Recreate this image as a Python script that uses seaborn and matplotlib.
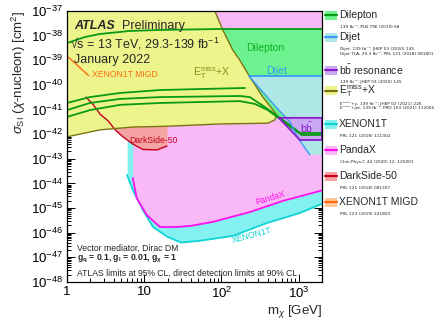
import matplotlib
matplotlib.use("Agg")
import matplotlib.pyplot as plt
import seaborn as sns
from matplotlib.patches import Rectangle
from matplotlib.lines import Line2D
from matplotlib.ticker import FixedLocator, FixedFormatter, LogLocator, NullFormatter

sns.set_theme(style="ticks")
plt.rcParams['font.family'] = ['Liberation Sans', 'DejaVu Sans']
plt.rcParams['mathtext.fontset'] = 'custom'
plt.rcParams['mathtext.rm'] = 'Liberation Sans'
plt.rcParams['mathtext.it'] = 'Liberation Sans:italic'
plt.rcParams['mathtext.bf'] = 'Liberation Sans:bold'
plt.rcParams['mathtext.sf'] = 'Liberation Sans'

# ---- limits: dark-matter mass [GeV] vs. SI cross-section [cm^2] ----
xenon_mass = [6.0, 7.1, 9.6, 13, 20, 30, 52, 140, 390, 1030, 2000]
xenon_xsec = [2.2e-44, 5.5e-45, 8.3e-46, 1.7e-46, 6.8e-47, 4.0e-47, 4.7e-47, 7.4e-47, 2.5e-46, 6.3e-46, 1.5e-45]

pandax_mass = [7.1, 8.0, 10.8, 16, 26, 40, 77, 233, 620, 2000]
pandax_xsec = [1.66e-44, 2.5e-45, 5.2e-46, 1.7e-46, 1.7e-46, 1.9e-46, 2.75e-46, 6.9e-46, 1.95e-45, 5.2e-45]

ds50_mass = [1.76, 2.2, 2.7, 3.4, 4.2, 5.3, 7.1, 9.6, 14.6, 19.7]
ds50_xsec = [3.2e-41, 1.55e-41, 6.3e-42, 3.5e-42, 1.5e-42, 7.8e-43, 4.0e-43, 2.4e-43, 2.3e-43, 3.3e-43]

migd_mass = [1.0, 1.9]
migd_xsec = [1.5e-39, 2.4e-40]

# E_T^miss + X excluded region (closed contour)
etmiss_mass = [1, 82, 104, 140, 173, 233, 343, 521, 491, 398, 95, 19.7, 7.1, 2.67, 1]
etmiss_xsec = [1e-37, 1e-37, 1.7e-38, 2.6e-39, 1.0e-39, 2.1e-40, 3.2e-41, 6.0e-42,
               3.8e-42, 2.8e-42, 2.6e-42, 2.1e-42, 1.95e-42, 1.5e-42, 7.8e-43]

# Dilepton contour: upper edge and lower edges
dilep_up_mass = [1, 1.71, 2.67, 6.5, 16, 95, 2000]
dilep_up_xsec = [5.0e-39, 8.8e-39, 1.17e-38, 1.55e-38, 1.7e-38, 1.86e-38, 1.86e-38]
dilep_a_mass = [1, 1.98, 4.85, 16, 52.6, 201]
dilep_a_xsec = [1.85e-41, 3.2e-41, 4.7e-41, 6.2e-41, 6.8e-41, 7.5e-41]
dilep_b_mass = [1, 1.98, 4.85, 16, 173, 233, 364, 767, 1033, 2000]
dilep_b_xsec = [9.5e-42, 1.85e-41, 2.7e-41, 3.2e-41, 3.55e-41, 3.2e-41, 1.27e-41, 2.35e-42, 1.12e-42, 1.12e-42]
dilep_c_mass = [1, 1.98, 4.85, 16, 173, 270, 398, 815, 1097, 2000]
dilep_c_xsec = [5.0e-42, 9.5e-42, 1.55e-41, 1.85e-41, 2.2e-41, 1.7e-41, 9.5e-42, 1.78e-42, 9.3e-43, 9.3e-43]

# Dijet region
dijet_mass = [226, 2000, 2000, 1393, 1200, 973, 767, 521, 343, 226]
dijet_xsec = [2.3e-40, 2.3e-40, 1.45e-43, 1.45e-43, 2.8e-43, 7.0e-43, 3.2e-42, 1.15e-41, 5.1e-41, 2.3e-40]

# b-bbar resonance region
bb_mass = [553, 2000, 2000, 1033, 553]
bb_xsec = [4.6e-42, 4.6e-42, 5.8e-43, 5.8e-43, 4.6e-42]

C_XENON_F, C_XENON_L = "#84f1f1", "#11d4d4"
C_PANDA_F, C_PANDA_L = "#f9b9f6", "#ff11ee"
C_DS_F, C_DS_L = "#f5a3a3", "#c4001c"
C_MIGD_F, C_MIGD_L = "#ffc79a", "#ff6a10"
C_ETM_F, C_ETM_L = "#eef48c", "#7b7412"
C_DIL_F, C_DIL_L = "#6cf28e", "#089a14"
C_DIJ_F, C_DIJ_L = "#afe6e6", "#3a9cf4"
C_BB_F, C_BB_L = "#c8a9f2", "#8a1ccc"

fig = plt.figure(figsize=(4.4, 3.22), dpi=100)
ax = fig.add_axes([67 / 440, 1 - 282 / 322, (322 - 67) / 440, (282 - 11) / 322])
ax.set_xscale("log")
ax.set_yscale("log")
ax.set_xlim(1, 2000)
ax.set_ylim(1e-48, 1e-37)
TOP = 1e-36

# direct detection fills
ax.fill_between(xenon_mass, xenon_xsec, TOP, color=C_XENON_F, lw=0, zorder=1)
ax.fill_between(pandax_mass, pandax_xsec, TOP, color=C_PANDA_F, lw=0, zorder=2)
ax.fill_between(ds50_mass, ds50_xsec, TOP, color=C_DS_F, lw=0, zorder=3)

# collider fills
ax.fill(dilep_up_mass + dilep_c_mass[::-1], dilep_up_xsec + dilep_c_xsec[::-1],
        color=C_DIL_F, lw=0, zorder=4)
ax.fill(dijet_mass, dijet_xsec, color=C_DIJ_F, lw=0, zorder=5)
ax.fill(bb_mass, bb_xsec, color=C_BB_F, lw=0, zorder=6)
ax.fill(etmiss_mass, etmiss_xsec, color=C_ETM_F, lw=0, zorder=7)

def curve(m, s, c, lw=1.3, z=10):
    sns.lineplot(x=m, y=s, sort=False, estimator=None, color=c, lw=lw, ax=ax, zorder=z)

curve(xenon_mass, xenon_xsec, C_XENON_L)
curve(pandax_mass, pandax_xsec, C_PANDA_L)
curve(ds50_mass, ds50_xsec, C_DS_L, lw=1.0)
curve(migd_mass, migd_xsec, C_MIGD_L, lw=1.0)
curve(etmiss_mass[1:], etmiss_xsec[1:], C_ETM_L, lw=1.0)
curve(dilep_up_mass, dilep_up_xsec, C_DIL_L, lw=1.3)
curve(dilep_a_mass, dilep_a_xsec, C_DIL_L, lw=1.3)
curve(dilep_b_mass, dilep_b_xsec, C_DIL_L, lw=1.3)
curve(dilep_c_mass, dilep_c_xsec, C_DIL_L, lw=1.3)
curve(dijet_mass[:2], dijet_xsec[:2], C_DIJ_L, lw=1.3)
curve(dijet_mass[3:], dijet_xsec[3:], C_DIJ_L, lw=1.0)
curve(bb_mass, bb_xsec, C_BB_L, lw=1.3)

# labels on the plot
ax.text(364, 3.2e-39, "Dilepton", color="#10b020", fontsize=7.5, ha="center", va="center", zorder=20)
ax.text(521, 3.6e-40, "Dijet", color=C_DIJ_L, fontsize=7.5, ha="center", va="center", zorder=20)
ax.text(42.7, 3.3e-40, r"E$_\mathregular{T}^\mathregular{miss}$+X", color="#8f8a1e", fontsize=7.5,
        ha="left", va="center", zorder=20)
ax.text(1274, 1.8e-42, r"b$\bar{\mathregular{b}}$", color=C_BB_L, fontsize=7.5, ha="center", va="center", zorder=20)
ax.text(13.3, 5.8e-43, "DarkSide-50", color=C_DS_L, fontsize=6.2, ha="center", va="center", zorder=20)
ax.text(2.1, 2.75e-40, "XENON1T MIGD", color=C_MIGD_L, fontsize=6.2, ha="left", va="center", zorder=20)
ax.text(423, 2.6e-45, "PandaX", color=C_PANDA_L, fontsize=6.2, ha="center", va="center",
        rotation=17, zorder=20)
ax.text(247, 8.1e-47, "XENON1T", color=C_XENON_L, fontsize=6.2, ha="center", va="center",
        rotation=15, zorder=20)

# header and footer
fig.text(74 / 440, 1 - 26 / 322, "ATLAS", fontsize=9, va="center", fontweight="bold", fontstyle="italic")
fig.text(122 / 440, 1 - 26 / 322, "Preliminary", fontsize=9, va="center")
fig.text(70 / 440, 1 - 44 / 322, "\u221as = 13 TeV, 29.3-139 fb$^\\mathregular{-1}$", fontsize=9, va="center")
fig.text(74 / 440, 1 - 60 / 322, "January 2022", fontsize=9, va="center")
fig.text(77 / 440, 1 - 248 / 322, "Vector mediator, Dirac DM", fontsize=6.2, va="center")
fig.text(77 / 440, 1 - 259 / 322, r"$\mathbf{g_q}$ = 0.1, $\mathbf{g_l}$ = 0.01, $\mathbf{g_\chi}$ = 1",
         fontsize=6.2, va="center", fontweight="bold")
fig.text(77 / 440, 1 - 273 / 322, "ATLAS limits at 95% CL, direct detection limits at 90% CL",
         fontsize=6.2, va="center")

# axes styling
for s in ax.spines.values():
    s.set_linewidth(0.9)
    s.set_color("black")
    s.set_zorder(40)
ax.xaxis.set_major_locator(FixedLocator([1, 10, 100, 1000]))
ax.xaxis.set_major_formatter(FixedFormatter(["1", "10", r"$10^\mathregular{2}$", r"$10^\mathregular{3}$"]))
ax.xaxis.set_minor_locator(LogLocator(base=10, subs=range(2, 10), numticks=20))
ax.xaxis.set_minor_formatter(NullFormatter())
yt = [10.0 ** e for e in range(-48, -36)]
ax.yaxis.set_major_locator(FixedLocator(yt))
ax.yaxis.set_major_formatter(FixedFormatter([r"$10^{\mathregular{%d}}$" % e for e in range(-48, -36)]))
ax.yaxis.set_minor_locator(LogLocator(base=10, subs=range(2, 10), numticks=40))
ax.yaxis.set_minor_formatter(NullFormatter())
ax.tick_params(which="both", direction="in", top=True, right=True, width=0.7, colors="black",
               labelsize=9.5, pad=3)
ax.tick_params(which="major", length=6)
ax.tick_params(which="minor", length=3)
ax.set_xlabel(r"m$_\chi$ [GeV]", fontsize=9.5, loc="right", labelpad=1)
ax.set_ylabel(r"$\sigma_\mathregular{SI}$ ($\chi$-nucleon) [cm$^\mathregular{2}$]", fontsize=9.5,
              loc="top", labelpad=2)

# legend column
legend_rows = [
    ("Dilepton", C_DIL_F, C_DIL_L, 15, ["139 fb\u207b\u00b9; PLB 796 (2019) 68"]),
    ("Dijet", C_DIJ_F, C_DIJ_L, 37, ["Dijet, 139 fb\u207b\u00b9; JHEP 03 (2020) 145",
                                     "Dijet TLA, 29.3 fb\u207b\u00b9; PRL 121 (2018) 081801"]),
    (r"b$\bar{\mathregular{b}}$ resonance", C_BB_F, C_BB_L, 70, ["139 fb\u207b\u00b9; JHEP 03 (2020) 145"]),
    (r"E$_\mathregular{T}^\mathregular{miss}$+X", C_ETM_F, C_ETM_L, 91,
     ["E\u1d40\u1d50\u2071\u02e2\u02e2+\u03b3, 139 fb\u207b\u00b9; JHEP 02 (2021) 226",
      "E\u1d40\u1d50\u2071\u02e2\u02e2+jet, 139 fb\u207b\u00b9; PRD 103 (2021) 112006"]),
    ("XENON1T", C_XENON_F, C_XENON_L, 124, ["PRL 121 (2018) 111302"]),
    ("PandaX", C_PANDA_F, C_PANDA_L, 150, ["Chin.Phys.C 44 (2020) 12, 125001"]),
    ("DarkSide-50", C_DS_F, C_DS_L, 176, ["PRL 121 (2018) 081307"]),
    ("XENON1T MIGD", C_MIGD_F, C_MIGD_L, 202, ["PRL 123 (2019) 241803"]),
]
W, H = 440.0, 322.0
for name, fc, lc, py, subs in legend_rows:
    fig.add_artist(Rectangle((325 / W, 1 - (py + 4.5) / H), 12 / W, 9 / H, transform=fig.transFigure,
                             facecolor=fc, edgecolor="none"))
    fig.add_artist(Line2D([325 / W, 337 / W], [1 - py / H, 1 - py / H], transform=fig.transFigure,
                          color=lc, lw=1.6))
    fig.text(339 / W, 1 - py / H, name, fontsize=7.5, va="center", ha="left")
    for i, s in enumerate(subs):
        fig.text(340 / W, 1 - (py + 12 + 4.6 * i) / H, s, fontsize=3.1, va="center", ha="left",
                 color="#222222", family=["DejaVu Sans"])

fig.savefig("out.png", dpi=100)
